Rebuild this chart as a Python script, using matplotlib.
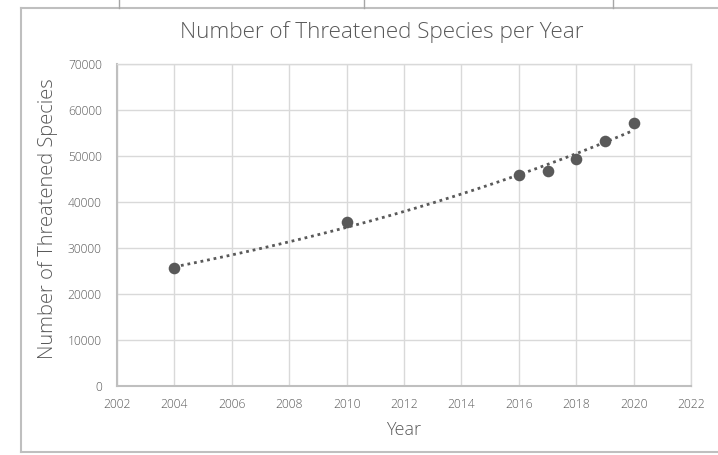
import numpy as np
import matplotlib
matplotlib.use('Agg')
import matplotlib.pyplot as plt
from matplotlib.lines import Line2D

# data
years = np.array([2004, 2010, 2016, 2017, 2018, 2019, 2020])
species = np.array([25600, 35600, 45900, 46800, 49300, 53200, 57200])

xticks = np.arange(2002, 2023, 2)
yticks = np.arange(0, 70001, 10000)

txt = '#595959'
grid = '#d9d9d9'
plt.rcParams['font.family'] = ['Open Sans', 'DejaVu Sans']
fw = 'light'

fig = plt.figure(figsize=(7.18, 4.55), dpi=100)
ax = fig.add_axes([117/718, 1 - 386/455, 574/718, 322/455])

# exponential trendline, like Excel's
b, ln_a = np.polyfit(years, np.log(species), 1)
tx = np.linspace(years.min(), years.max(), 200)
ax.plot(tx, np.exp(ln_a + b * tx), color=txt, lw=2, ls=(0, (1, 1.4)), zorder=2)
ax.scatter(years, species, s=70, color=txt, zorder=3, linewidths=0)

ax.set_xlim(2002, 2022)
ax.set_ylim(0, 70000)
ax.set_xticks(xticks)
ax.set_yticks(yticks)
ax.grid(True, color=grid, lw=1)
ax.set_axisbelow(True)
ax.tick_params(length=0, labelsize=8.7, colors=txt)
ax.tick_params(axis='y', pad=11)
ax.tick_params(axis='x', pad=9)
for lab in ax.get_xticklabels() + ax.get_yticklabels():
    lab.set_fontweight(fw)
for s in ['top', 'right']:
    ax.spines[s].set_color(grid)
    ax.spines[s].set_linewidth(1)
for s in ['left', 'bottom']:
    ax.spines[s].set_color('#bfbfbf')
    ax.spines[s].set_linewidth(1.5)

ax.set_xlabel('Year', fontsize=13, color=txt, fontweight=fw, labelpad=7)
ax.set_ylabel('Number of Threatened Species', fontsize=14.5, color=txt,
              fontweight=fw)
ax.yaxis.set_label_coords(-0.103, 0.52)
fig.text(382/718, 1 - 32/455, 'Number of Threatened Species per Year',
         fontsize=16.2, color=txt, fontweight=fw, ha='center', va='center')

# chart frame and table lines at the top
W, H = 718, 455
frame = '#bfbfbf'
fig.add_artist(Line2D([21/W, 21/W], [1 - 8/H, 1 - 452/H], color=frame, lw=1.5))
fig.add_artist(Line2D([21/W, 1], [1 - 8/H, 1 - 8/H], color=frame, lw=1.5))
fig.add_artist(Line2D([21/W, 1], [1 - 452/H, 1 - 452/H], color=frame, lw=1.5))
for x in [119, 364, 613]:
    fig.add_artist(Line2D([x/W, x/W], [1, 1 - 8/H], color='#a6a6a6', lw=1))

fig.savefig('out.png', dpi=100)
